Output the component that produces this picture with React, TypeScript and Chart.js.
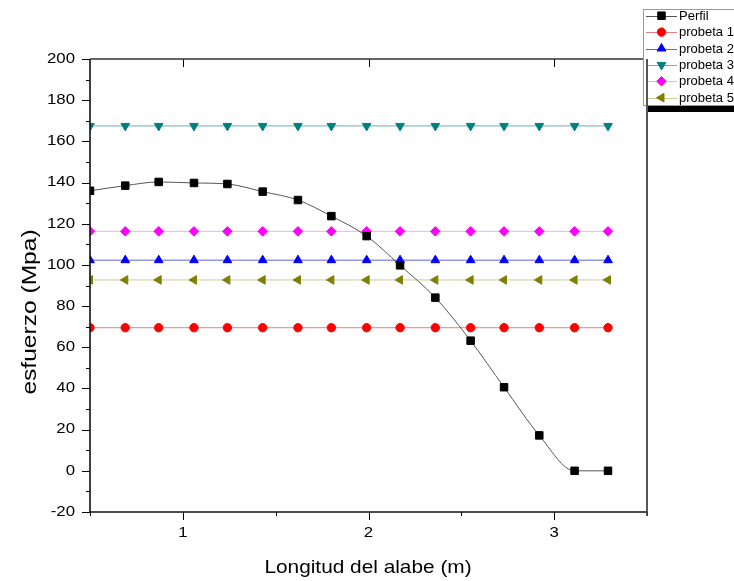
import React, { useEffect, useRef } from 'react';
import { Chart, registerables } from 'chart.js';
import { drawPoint } from 'chart.js/helpers';

Chart.register(...registerables);

// ---- data ----
const xValues = [0.5, 0.69, 0.87, 1.06, 1.24, 1.43, 1.62, 1.8, 1.99, 2.17, 2.36, 2.55, 2.73, 2.92, 3.11, 3.29];
const perfil = [136.0, 138.5, 140.3, 139.8, 139.3, 135.6, 131.5, 123.7, 114.0, 99.8, 84.1, 63.2, 40.6, 17.2, 0, 0];
const probeta1 = [69.5, 69.5, 69.5, 69.5, 69.5, 69.5, 69.5, 69.5, 69.5, 69.5, 69.5, 69.5, 69.5, 69.5, 69.5, 69.5];
const probeta2 = [102.3, 102.3, 102.3, 102.3, 102.3, 102.3, 102.3, 102.3, 102.3, 102.3, 102.3, 102.3, 102.3, 102.3, 102.3, 102.3];
const probeta3 = [167.5, 167.5, 167.5, 167.5, 167.5, 167.5, 167.5, 167.5, 167.5, 167.5, 167.5, 167.5, 167.5, 167.5, 167.5, 167.5];
const probeta4 = [116.3, 116.3, 116.3, 116.3, 116.3, 116.3, 116.3, 116.3, 116.3, 116.3, 116.3, 116.3, 116.3, 116.3, 116.3, 116.3];
const probeta5 = [92.7, 92.7, 92.7, 92.7, 92.7, 92.7, 92.7, 92.7, 92.7, 92.7, 92.7, 92.7, 92.7, 92.7, 92.7, 92.7];
const seriesNames = ['Perfil', 'probeta 1', 'probeta 2', 'probeta 3', 'probeta 4', 'probeta 5'];
const xTicks = [1, 2, 3];
const xMinorTicks = [0.5, 1.5, 2.5, 3.5];
const yTicks = [-20, 0, 20, 40, 60, 80, 100, 120, 140, 160, 180, 200];
const yMinorTicks = [-10, 10, 30, 50, 70, 90, 110, 130, 150, 170, 190];
const xTitle = 'Longitud del alabe (m)';
const yTitle = 'esfuerzo (Mpa)';

const FONT = '"Liberation Sans", Arial, sans-serif';

type Style = { color: string; line: string; pointStyle: string; rotation: number; radius: number };
const styles: Style[] = [
  { color: '#000000', line: '#555555', pointStyle: 'rect', rotation: 0, radius: 5.3 },
  { color: '#ff0000', line: 'rgba(240,110,110,0.9)', pointStyle: 'circle', rotation: 0, radius: 4.2 },
  { color: '#0000ff', line: 'rgba(80,80,220,0.9)', pointStyle: 'triangle', rotation: 0, radius: 5 },
  { color: '#008080', line: 'rgba(90,170,170,0.9)', pointStyle: 'triangle', rotation: 180, radius: 5 },
  { color: '#ff00ff', line: 'rgba(245,160,245,0.9)', pointStyle: 'rectRot', rotation: 0, radius: 4.8 },
  { color: '#808000', line: 'rgba(200,200,140,0.9)', pointStyle: 'triangle', rotation: 270, radius: 5 },
];

function text(ctx: CanvasRenderingContext2D, s: string, x: number, y: number, size: number, sx: number, align: CanvasTextAlign, rot = 0) {
  ctx.save();
  ctx.translate(x, y);
  if (rot) ctx.rotate(rot);
  ctx.scale(sx, 1);
  ctx.font = `${size}px ${FONT}`;
  ctx.textAlign = align;
  ctx.textBaseline = 'middle';
  ctx.fillStyle = '#000';
  ctx.fillText(s, 0, 0);
  ctx.restore();
}

const decor = {
  id: 'decor',
  afterDraw(chart: any) {
    const ctx: CanvasRenderingContext2D = chart.ctx;
    const { left, right, top, bottom } = chart.chartArea;
    const xs = chart.scales.x;
    const ys = chart.scales.y;
    ctx.save();
    ctx.strokeStyle = '#000';
    ctx.lineWidth = 1;
    ctx.beginPath();
    yTicks.forEach((v) => {
      const p = Math.round(ys.getPixelForValue(v)) + 0.5;
      ctx.moveTo(left - 8, p);
      ctx.lineTo(left, p);
    });
    yMinorTicks.forEach((v) => {
      const p = Math.round(ys.getPixelForValue(v)) + 0.5;
      ctx.moveTo(left - 4, p);
      ctx.lineTo(left, p);
    });
    xTicks.forEach((v) => {
      const p = Math.round(xs.getPixelForValue(v)) + 0.5;
      ctx.moveTo(p, bottom);
      ctx.lineTo(p, bottom + 8);
      ctx.moveTo(p, top);
      ctx.lineTo(p, top + 8);
    });
    xMinorTicks.forEach((v) => {
      const p = Math.round(xs.getPixelForValue(v)) + 0.5;
      ctx.moveTo(p, bottom);
      ctx.lineTo(p, bottom + 4);
    });
    ctx.stroke();

    // frame left / bottom / top
    ctx.lineWidth = 1.6;
    ctx.strokeStyle = '#111';
    ctx.beginPath();
    ctx.moveTo(left, top);
    ctx.lineTo(left, bottom);
    ctx.lineTo(right, bottom);
    ctx.stroke();
    ctx.strokeStyle = '#333';
    ctx.beginPath();
    ctx.moveTo(left, top);
    ctx.lineTo(right, top);
    ctx.stroke();

    // tick labels
    yTicks.forEach((v) => {
      text(ctx, String(v), 75, ys.getPixelForValue(v), 14, 1.2, 'right');
    });
    xTicks.forEach((v) => {
      text(ctx, String(v), xs.getPixelForValue(v), 533, 14, 1.2, 'center');
    });

    // titles
    text(ctx, xTitle, 368, 568, 18.6, 1.12, 'center');
    text(ctx, yTitle, 31, 312, 19.5, 1.26, 'center', -Math.PI / 2);

    // legend
    const lx = 643, ly = 9, lw = 120, lh = 96;
    ctx.fillStyle = '#000';
    ctx.fillRect(648, ly + lh + 1, lw, 6);
    ctx.fillStyle = '#fff';
    ctx.fillRect(lx, ly, lw, lh);
    ctx.strokeStyle = '#999';
    ctx.lineWidth = 1;
    ctx.strokeRect(lx + 0.5, ly + 0.5, lw, lh);
    seriesNames.forEach((name, i) => {
      const st = styles[i];
      const yy = 15.7 + i * 16.4;
      ctx.strokeStyle = st.line;
      ctx.lineWidth = 1;
      ctx.beginPath();
      ctx.moveTo(646, Math.round(yy) + 0.5);
      ctx.lineTo(677, Math.round(yy) + 0.5);
      ctx.stroke();
      ctx.fillStyle = st.color;
      ctx.strokeStyle = st.color;
      drawPoint(ctx, { pointStyle: st.pointStyle as any, rotation: st.rotation, radius: st.radius, borderWidth: 1 }, 661.5, yy);
      ctx.font = `13px ${FONT}`;
      ctx.textAlign = 'left';
      ctx.textBaseline = 'middle';
      ctx.fillStyle = '#000';
      ctx.fillText(name, 679, yy + 0.5);
    });

    // right frame line on top
    ctx.strokeStyle = '#444';
    ctx.lineWidth = 1.8;
    ctx.beginPath();
    ctx.moveTo(right, top);
    ctx.lineTo(right, bottom + 4);
    ctx.stroke();
    ctx.restore();
  },
};

export default function App() {
  const ref = useRef<HTMLCanvasElement>(null);
  useEffect(() => {
    if (!ref.current) return;
    const all = [perfil, probeta1, probeta2, probeta3, probeta4, probeta5];
    const chart = new Chart(ref.current, {
      type: 'line',
      data: {
        datasets: all.map((vals, i) => ({
          label: seriesNames[i],
          data: vals.map((v, j) => ({ x: xValues[j], y: v })),
          borderColor: styles[i].line,
          borderWidth: 1,
          backgroundColor: styles[i].color,
          pointBackgroundColor: styles[i].color,
          pointBorderColor: styles[i].color,
          pointBorderWidth: 1,
          pointStyle: styles[i].pointStyle as any,
          pointRotation: styles[i].rotation,
          pointRadius: styles[i].radius,
          cubicInterpolationMode: i === 0 ? 'monotone' : 'default',
          tension: 0,
          fill: false,
        })),
      },
      options: {
        animation: false,
        responsive: false,
        events: [],
        layout: { autoPadding: false, padding: { top: 59, right: 87, left: 0, bottom: 0 } },
        plugins: { legend: { display: false }, tooltip: { enabled: false } },
        scales: {
          x: {
            type: 'linear',
            min: 0.5,
            max: 3.5,
            grid: { display: false },
            border: { display: false },
            ticks: { display: false },
            afterBuildTicks: (s: any) => {
              s.ticks = xTicks.map((v) => ({ value: v }));
            },
            afterFit: (s: any) => {
              s.height = 69;
            },
          },
          y: {
            type: 'linear',
            min: -20,
            max: 200,
            grid: { display: false },
            border: { display: false },
            ticks: { display: false, stepSize: 20 },
            afterFit: (s: any) => {
              s.width = 90;
            },
          },
        },
      },
      plugins: [decor],
    });
    return () => chart.destroy();
  }, []);
  return (
    <div style={{ position: 'absolute', left: 0, top: 0, width: 734, height: 581, background: '#fff' }}>
      <canvas ref={ref} width={734} height={581} />
    </div>
  );
}
